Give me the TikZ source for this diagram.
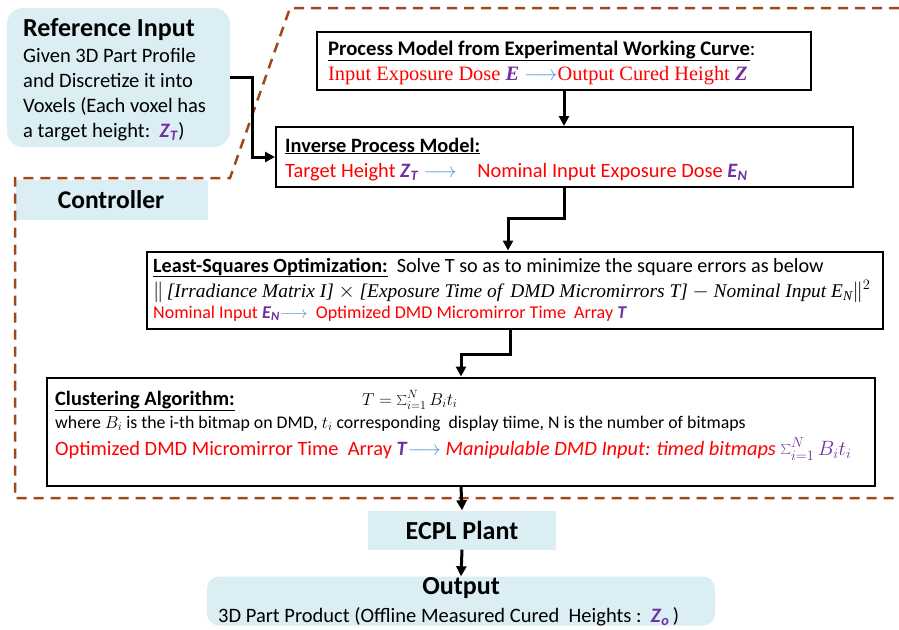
\documentclass[tikz,border=0pt]{standalone}
\usepackage{fontspec}
\setmainfont{Carlito}
\newfontfamily\serifrm{Liberation Serif}
\usetikzlibrary{arrows.meta}
\definecolor{lblue}{RGB}{218,238,243}
\definecolor{brn}{RGB}{158,72,30}
\definecolor{purp}{RGB}{112,48,160}
\definecolor{rd}{RGB}{255,0,0}
\definecolor{arb}{RGB}{91,155,213}
\newcommand\pv[1]{\textcolor{purp}{\textbf{\textit{#1}}}}
\newcommand\pvs[2]{\textcolor{purp}{\textbf{\textit{#1}}\textsubscript{\textbf{\textit{#2}}}}}
\newcommand\barr{\textcolor{arb}{$\longrightarrow$}}
\begin{document}
\begin{tikzpicture}[x=1pt,y=-1pt,
  box/.style={draw=black,line width=2pt,fill=white,inner sep=0pt},
  lbox/.style={fill=lblue,inner sep=0pt},
  txt/.style={inner sep=0pt,anchor=base west},
  conn/.style={line width=3pt,-{Triangle[length=10pt,width=10pt]}},
  bnd/.style={draw=brn,line width=2.5pt,dash pattern=on 10pt off 7pt}]
\useasboundingbox (0,0) rectangle (899,629);
% boxes
\node[lbox,rounded corners=16pt,minimum width=223pt,minimum height=139pt] (ref) at (118.5,77.5) {};
\node[lbox,minimum width=192pt,minimum height=40pt] (ctrl) at (112,200) {};
\node[box,minimum width=494pt,minimum height=58pt] (pm) at (564,61) {};
\node[box,minimum width=577pt,minimum height=60pt] (inv) at (564.5,157) {};
\node[box,minimum width=736pt,minimum height=77pt] (ls) at (515,290) {};
\node[box,minimum width=828pt,minimum height=108pt] (cl) at (461,431.5) {};
\node[lbox,minimum width=188pt,minimum height=39pt] (ecpl) at (462,530) {};
\node[lbox,rounded corners=12pt,minimum width=508pt,minimum height=49pt] (out) at (461,601) {};
% boundary
\draw[bnd] (899,8) -- (290,8) -- (230,178) -- (15,178) -- (15,498) -- (899,498);
% texts
\node[txt] (reft) at (23,36) {\fontsize{26}{30}\selectfont\bfseries Reference Input};
\node[txt,align=left,font={\fontsize{20.5}{24.7}\selectfont}] (refb) at (23,137) {Given 3D Part Profile\\and Discretize it into\\Voxels (Each voxel has\\a target height:\ \ \pvs{Z}{T})};
\node[inner sep=0pt] (ctrlt) at (111,200) {\fontsize{25.5}{28}\selectfont\bfseries Controller};
\node[txt] (pmt) at (328,55) {\fontsize{20.7}{24}\selectfont\bfseries\underline{Process Model from Experimental Working Curve}\mdseries:};
\node[txt] (pml) at (328,80) {\fontsize{20.4}{24}\selectfont\color{rd}\serifrm Input Exposure Dose \pv{E} \barr Output Cured Height \pv{Z}};
\node[txt] (invt) at (285,152) {\fontsize{20.4}{24}\selectfont\bfseries\underline{Inverse Process Model:}};
\node[txt] (invl) at (285,177) {\fontsize{20.4}{24}\selectfont\color{rd}Target Height \pvs{Z}{T} \barr\quad Nominal Input Exposure Dose \pvs{E}{N}};
\node[txt] (lst) at (153,272) {\fontsize{20.2}{24}\selectfont\textbf{\underline{Least-Squares Optimization:}}\ \ Solve T so as to minimize the square errors as below};
\node[txt] (lsf) at (153,297) {\fontsize{19.4}{22}\selectfont\serifrm$\|$\,\textit{[Irradiance Matrix I]} $\times$ \textit{[Exposure Time of\, DMD Micromirrors T]} $-$ \textit{Nominal Input E\textsubscript{N}}$\|^2$};
\node[txt] (lsl) at (153,318) {\fontsize{18}{22}\selectfont\color{rd}Nominal Input \pvs{E}{N}\barr\ \ Optimized DMD Micromirror Time\ \ Array \pv{T}};
\node[txt] (clt) at (55,405) {\fontsize{20.4}{24}\selectfont\textbf{\underline{Clustering Algorithm:}}};
\node[txt] (clf) at (362,405) {\fontsize{18}{20}\selectfont$T=\sum_{i=1}^{N}B_it_i$};
\node[txt] (cls) at (55,428) {\fontsize{17.8}{20}\selectfont where $B_i$ is the i-th bitmap on DMD, $t_i$ corresponding\ \ display tiime, N is the number of bitmaps};
\node[txt] (cll) at (55,455) {\fontsize{20.4}{24}\selectfont\color{rd}Optimized DMD Micromirror Time\ \ Array \pv{T}\barr\ \textit{Manipulable DMD Input: timed bitmaps} \textcolor{purp}{$\sum_{i=1}^{N}B_it_i$}};
\node[inner sep=0pt] (ecplt) at (462,530) {\fontsize{26}{28}\selectfont\bfseries ECPL Plant};
\node[inner sep=0pt] (outt) at (461,588) {\fontsize{26}{28}\selectfont\bfseries Output};
\node[txt] (outl) at (218,622) {\fontsize{20.5}{24}\selectfont 3D Part Product (Offline Measured Cured\ \ Heights :\ \ \pvs{Z}{o}\,)};
% connectors
\draw[conn] (ref.east) -- ++(22,0) |- (inv.west);
\draw[conn] (pm.south) -- (pm.south |- inv.north);
\coordinate (j1) at ([xshift=-7pt]ls.north);
\draw[conn] (inv.south) -- ++(0,30) -| (j1);
\coordinate (j2) at ([xshift=-5pt]ls.south);
\draw[conn] (j2) -- ++(0,25) -| (cl.north);
\draw[conn] (cl.south) -- (ecpl.north);
\draw[conn] (ecpl.south) -- (out.north);
\end{tikzpicture}
\end{document}
